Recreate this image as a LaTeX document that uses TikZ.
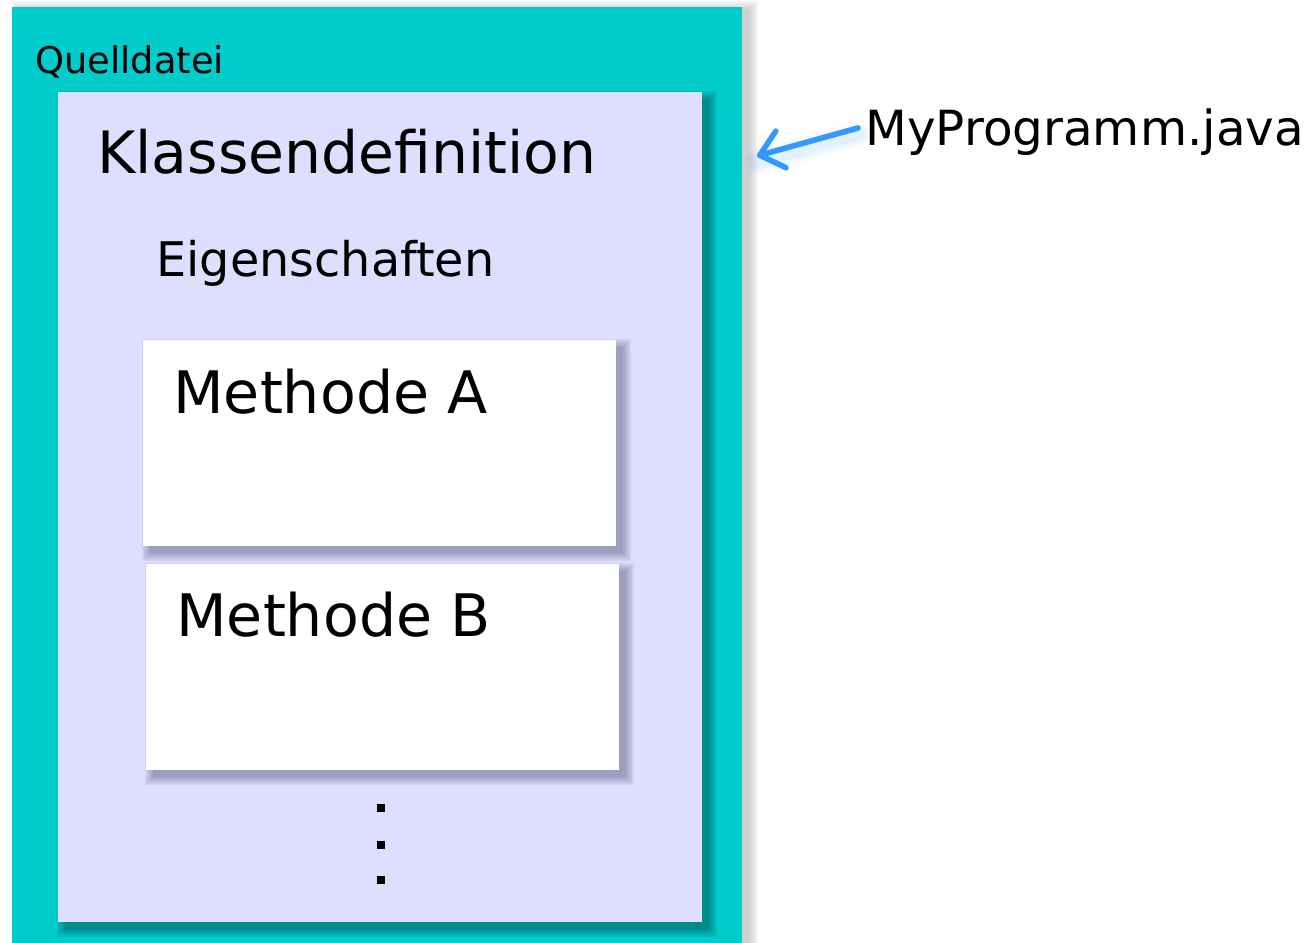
\documentclass[tikz,border=0pt]{standalone}
\usepackage{fontspec}
\setmainfont{DejaVu Sans}
\usetikzlibrary{arrows.meta}
\definecolor{tealbox}{RGB}{0,204,204}
\definecolor{lavbox}{RGB}{222,222,254}
\definecolor{arrowblue}{RGB}{51,153,255}
\definecolor{shcol}{RGB}{20,20,60}
\newcommand{\softshade}[8]{% x1 y1 x2 y2 dx dy color opacity
  \foreach \r in {8,6,4,2,0}{
    \fill[#7,opacity=#8] (#1+#5-\r,#2+#6-\r) rectangle (#3+#5+\r,#4+#6+\r);
  }}
\begin{document}
\begin{tikzpicture}[x=0.5pt,y=-0.5pt,
  box/.style={anchor=north west,inner sep=0pt,outer sep=0pt,draw=none},
  outerbox/.style={box,fill=tealbox,minimum width=365pt,minimum height=480pt},
  innerbox/.style={box,fill=lavbox,minimum width=322pt,minimum height=415pt},
  methbox/.style={box,fill=white,minimum width=236.5pt,minimum height=103pt},
  lbl/.style={anchor=base west,inner sep=0pt,text=black},
  dotsq/.style={fill=black,inner sep=0pt,minimum size=3.6pt},
  link/.style={draw=arrowblue,line width=2.8pt,line cap=round,
    -{Straight Barb[length=11pt,width=19pt,line cap=round,line join=round]}},
  glow/.style={draw=arrowblue,line cap=round}
]
\useasboundingbox (0,0) rectangle (1310,942);
\softshade{12}{7}{742}{960}{8}{2}{black}{0.04}
\node[outerbox] (quelle) at (12,7) {};
\softshade{58}{92}{702}{922}{7}{7}{black}{0.07}
\node[innerbox] (klasse) at (58,92) {};
\softshade{143}{340}{616}{546}{7}{7}{shcol}{0.07}
\node[methbox] (mA) at (143,340) {};
\softshade{146}{564}{619}{770}{7}{7}{shcol}{0.07}
\node[methbox] (mB) at (146,564) {};

\node[lbl,font=\fontsize{18.4pt}{20pt}\selectfont] (tq) at (35,73) {Quelldatei};
\node[lbl,font=\fontsize{29.2pt}{32pt}\selectfont] (tk) at (97,173) {Klassendefinition};
\node[lbl,font=\fontsize{23.85pt}{26pt}\selectfont] (te) at (156,276) {Eigenschaften};
\node[lbl,font=\fontsize{29.3pt}{32pt}\selectfont] (ta) at (173,413) {Methode A};
\node[lbl,font=\fontsize{29.3pt}{32pt}\selectfont] (tb) at (176,636) {Methode B};
\node[lbl,font=\fontsize{24.2pt}{27pt}\selectfont] (myprog) at (865,145) {MyProgramm.java};

\node[dotsq] (d1) at (381,808) {};
\node[dotsq] (d2) at (381,845) {};
\node[dotsq] (d3) at (381,880) {};

\coordinate (tip) at (757,156);
\coordinate (tail) at (858,128);
\foreach \w/\o in {12pt/0.04,9pt/0.05,6pt/0.06}{
  \draw[glow,opacity=\o,line width=\w] ([yshift=-3pt]tail) -- ([yshift=-3pt]tip);
}
\draw[link] (tail) -- (tip);
\end{tikzpicture}
\end{document}
